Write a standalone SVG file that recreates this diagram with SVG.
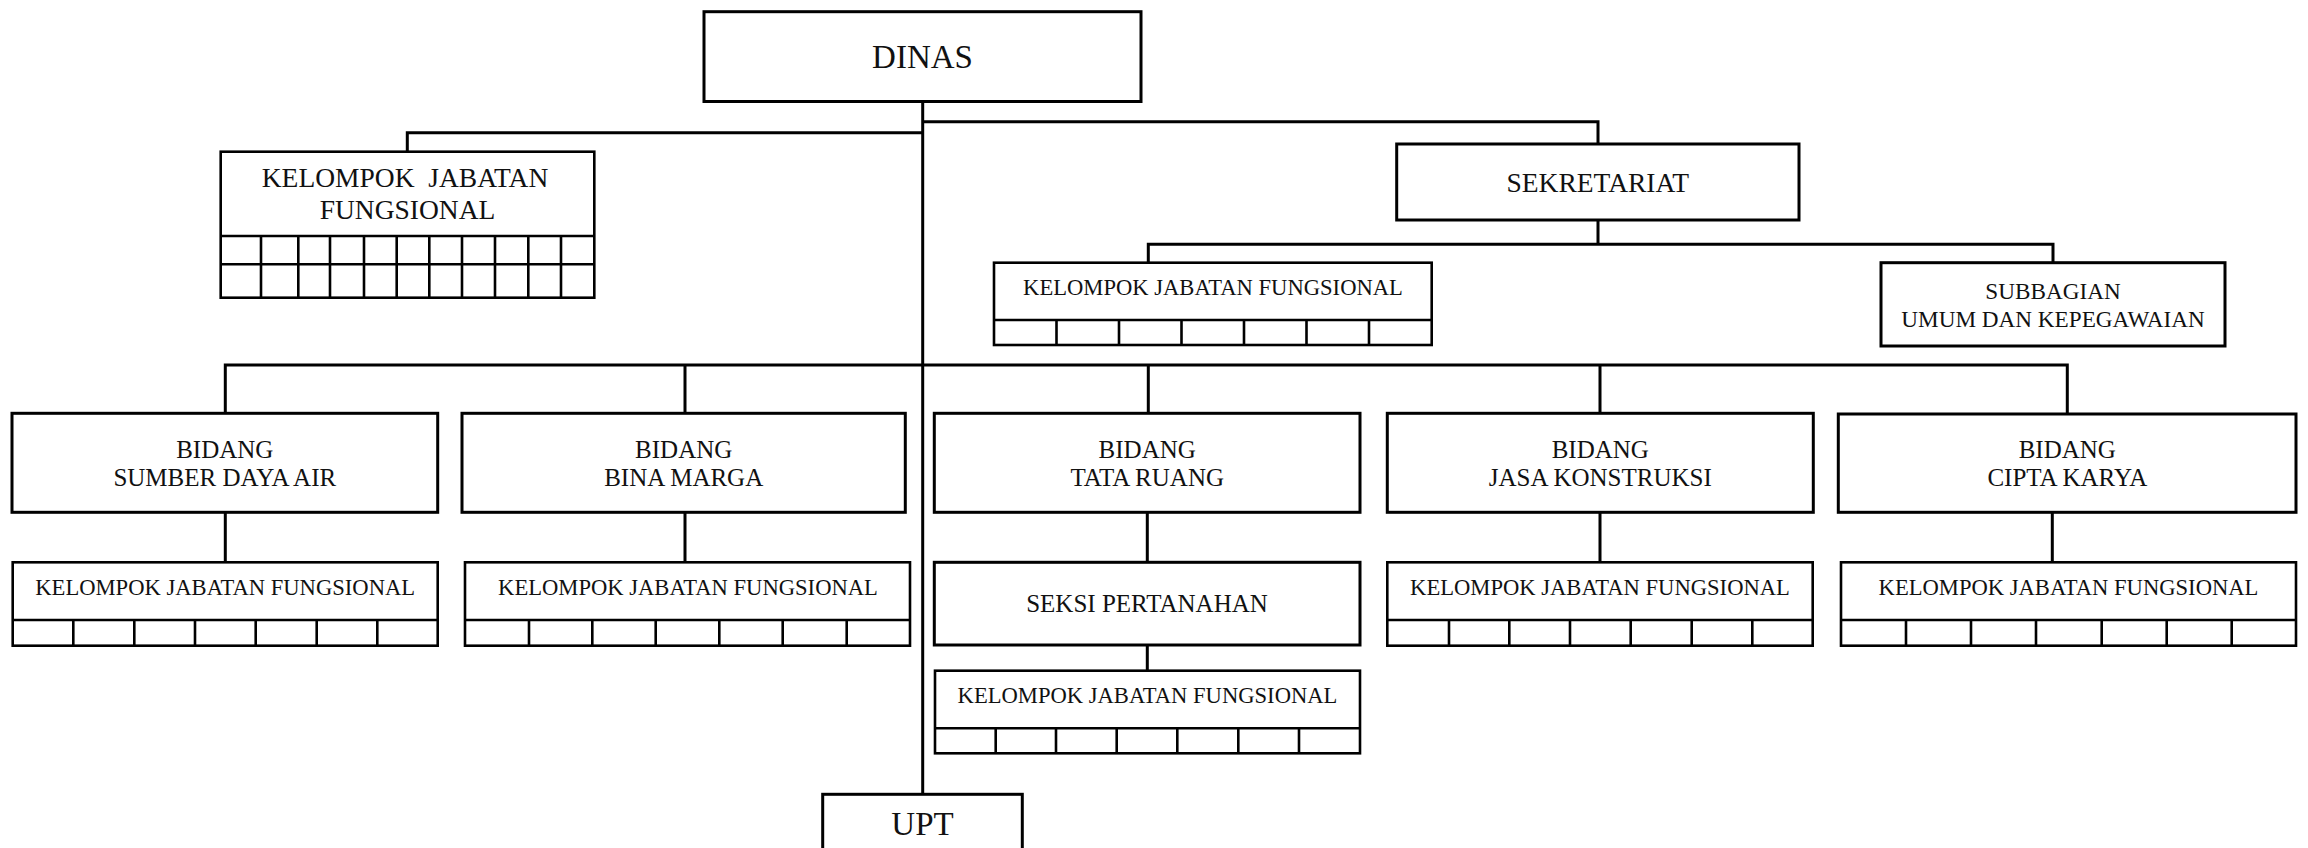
<svg xmlns="http://www.w3.org/2000/svg" width="2308" height="848" viewBox="0 0 2308 848">
<style>
.bx{fill:#fff;stroke:#000;stroke-width:3}
.kb{fill:#fff;stroke:#000;stroke-width:2.6}
.gr{stroke:#000;stroke-width:2.6;fill:none}
.ln{stroke:#000;stroke-width:3;fill:none}
text{font-family:"Liberation Serif","Times New Roman",serif;fill:#111;text-anchor:middle}
.t33{font-size:33px}
.t27{font-size:27.5px}
.t25{font-size:25px}
.t22{font-size:22.6px}
.t23{font-size:23.2px}
</style>
<rect width="2308" height="848" fill="#fff"/>
<g id="connectors">
<path class="ln" d="M922.7,101.5V794.3"/>
<path class="ln" d="M922.7,132.7H407.3V151.7"/>
<path class="ln" d="M922.7,121.7H1598V144"/>
<path class="ln" d="M1598,220V244.3M1148.3,262.7V244.3H2053V262.7"/>
<path class="ln" d="M225.3,413.3V365H2067.3V413.3M685,365V413.3M1148.3,365V413.3M1600,365V413.3"/>
<path class="ln" d="M225.3,512.3V562.3M685,512.3V562.3M1147.3,512.3V562.3M1600,512.3V562.3M2052.3,512.3V562.3M1147.3,645V670.7"/>
</g>
<g id="dinas">
<rect class="bx" x="704" y="11.7" width="437" height="89.8"/>
<text class="t33" x="922.5" y="68">DINAS</text>
</g>
<g id="kjf-dinas">
<rect class="kb" x="220.7" y="151.7" width="373.6" height="146"/>
<path class="gr" d="M220.7,236H594.3M220.7,264.3H594.3M261,236V297.7M298.3,236V297.7M330,236V297.7M364,236V297.7M396.7,236V297.7M429.3,236V297.7M462,236V297.7M495,236V297.7M528.3,236V297.7M561,236V297.7"/>
<text class="t27" x="405" y="186.7" style="white-space:pre" xml:space="preserve">KELOMPOK  JABATAN</text>
<text class="t27" x="407.5" y="219">FUNGSIONAL</text>
</g>
<g id="sekretariat">
<rect class="bx" x="1396.7" y="144" width="402.3" height="76"/>
<text class="t27" x="1597.8" y="191.7">SEKRETARIAT</text>
</g>
<g id="kjf-sekretariat">
<rect class="kb" x="994" y="262.7" width="437.7" height="82.3"/>
<path class="gr" d="M994,320H1431.7M1056.5,320V345M1119,320V345M1181.5,320V345M1244,320V345M1306.5,320V345M1369,320V345"/>
<text class="t22" x="1213" y="295">KELOMPOK JABATAN FUNGSIONAL</text>
</g>
<g id="subbagian">
<rect class="bx" x="1881" y="262.7" width="344" height="83.3"/>
<text class="t23" x="2053" y="299.3">SUBBAGIAN</text>
<text class="t23" x="2053" y="326.7">UMUM DAN KEPEGAWAIAN</text>
</g>
<g id="bidang-sda">
<rect class="bx" x="12" y="413.3" width="425.7" height="99"/>
<text class="t25" x="224.8" y="457.5">BIDANG</text>
<text class="t25" x="224.8" y="486.3">SUMBER DAYA AIR</text>
</g>
<g id="kjf-sda">
<rect class="kb" x="12.7" y="562.3" width="425" height="83.4"/>
<path class="gr" d="M12.7,620H437.7M73.3,620V645.7M134.3,620V645.7M195,620V645.7M255.7,620V645.7M316.7,620V645.7M377.3,620V645.7"/>
<text class="t22" x="225.2" y="595">KELOMPOK JABATAN FUNGSIONAL</text>
</g>
<g id="bidang-bina-marga">
<rect class="bx" x="462" y="413.3" width="443.3" height="99"/>
<text class="t25" x="683.7" y="457.5">BIDANG</text>
<text class="t25" x="683.7" y="486.3">BINA MARGA</text>
</g>
<g id="kjf-bina-marga">
<rect class="kb" x="465" y="562.3" width="445" height="83.4"/>
<path class="gr" d="M465,620H910M529,620V645.7M592.3,620V645.7M655.7,620V645.7M719.3,620V645.7M782.7,620V645.7M846.7,620V645.7"/>
<text class="t22" x="688" y="595">KELOMPOK JABATAN FUNGSIONAL</text>
</g>
<g id="bidang-tata-ruang">
<rect class="bx" x="934.3" y="413.3" width="425.7" height="99"/>
<text class="t25" x="1147.2" y="457.5">BIDANG</text>
<text class="t25" x="1147.2" y="486.3">TATA RUANG</text>
</g>
<g id="seksi-pertanahan">
<rect class="bx" x="934.3" y="562.3" width="425.7" height="82.7"/>
<text class="t25" x="1147" y="612.3">SEKSI PERTANAHAN</text>
</g>
<g id="kjf-tata-ruang">
<rect class="kb" x="935" y="670.7" width="425" height="82.6"/>
<path class="gr" d="M935,728.3H1360M995.7,728.3V753.3M1056,728.3V753.3M1116.7,728.3V753.3M1177.3,728.3V753.3M1238.3,728.3V753.3M1299,728.3V753.3"/>
<text class="t22" x="1147.5" y="703.3">KELOMPOK JABATAN FUNGSIONAL</text>
</g>
<g id="bidang-jasa-konstruksi">
<rect class="bx" x="1387.3" y="413.3" width="426" height="99"/>
<text class="t25" x="1600.3" y="457.5">BIDANG</text>
<text class="t25" x="1600.3" y="486.3">JASA KONSTRUKSI</text>
</g>
<g id="kjf-jasa-konstruksi">
<rect class="kb" x="1387.3" y="562.3" width="425.4" height="83.4"/>
<path class="gr" d="M1387.3,620H1812.7M1449,620V645.7M1509.3,620V645.7M1570,620V645.7M1630.7,620V645.7M1691.7,620V645.7M1752.3,620V645.7"/>
<text class="t22" x="1600" y="595">KELOMPOK JABATAN FUNGSIONAL</text>
</g>
<g id="bidang-cipta-karya">
<rect class="bx" x="1838.3" y="414" width="457.7" height="98.3"/>
<text class="t25" x="2067.3" y="457.5">BIDANG</text>
<text class="t25" x="2067.3" y="486.3">CIPTA KARYA</text>
</g>
<g id="kjf-cipta-karya">
<rect class="kb" x="1841" y="562.3" width="455" height="83.4"/>
<path class="gr" d="M1841,620H2296M1906,620V645.7M1971,620V645.7M2036,620V645.7M2101.7,620V645.7M2166.7,620V645.7M2231.7,620V645.7"/>
<text class="t22" x="2068.5" y="595">KELOMPOK JABATAN FUNGSIONAL</text>
</g>
<g id="upt">
<rect class="bx" x="822.7" y="794.3" width="199.6" height="70"/>
<text class="t33" x="922.5" y="835">UPT</text>
</g>
</svg>
